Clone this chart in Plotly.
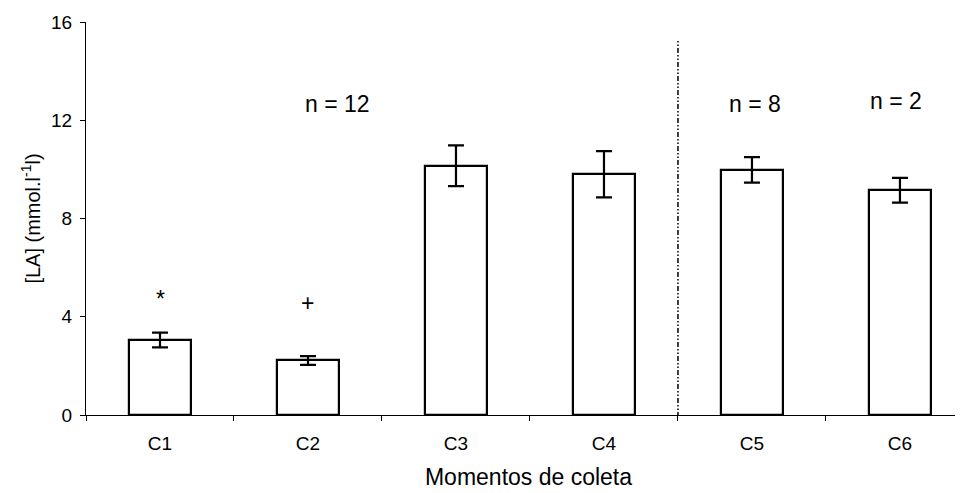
import plotly.graph_objects as go

categories = ["C1", "C2", "C3", "C4", "C5", "C6"]
means = [3.05, 2.22, 10.15, 9.8, 9.98, 9.15]
errors = [0.3, 0.18, 0.83, 0.94, 0.52, 0.5]
y_ticks = [0, 4, 8, 12, 16]
marks = [("*", 0, 4.72), ("+", 1, 4.58)]
n_labels = [("n = 12", 1.2, 12.68), ("n = 8", 4.02, 12.68), ("n = 2", 4.97, 12.78)]
divider_x = 3.5
divider_span = [-1.22, 15.24]

FONT = "Liberation Sans, Arial, sans-serif"
x = list(range(len(categories)))

fig = go.Figure()
fig.add_trace(go.Bar(
    x=x, y=means, width=0.42,
    marker=dict(color="white", line=dict(color="black", width=2.2)),
    error_y=dict(type="data", array=errors, visible=True, color="black",
                 thickness=2.2, width=8),
    showlegend=False,
))

for txt, xi, yi in marks:
    fig.add_annotation(x=xi, y=yi, text=txt, showarrow=False,
                       font=dict(family=FONT, size=23, color="black"))
for txt, xi, yi in n_labels:
    fig.add_annotation(x=xi, y=yi, text=txt, showarrow=False,
                       font=dict(family=FONT, size=23, color="black"))

fig.add_shape(type="line", xref="x", yref="y", x0=divider_x, x1=divider_x,
              y0=divider_span[0], y1=divider_span[1],
              line=dict(color="black", width=1.5, dash="5px,2px,1.5px,2px,1.5px,2px"))

# page body adds an 8px offset; margins compensate so the plot lands where the reference has it
fig.update_layout(
    width=963, height=493,
    margin=dict(l=78, r=0, t=14, b=86),
    paper_bgcolor="white", plot_bgcolor="white",
    font=dict(family=FONT, size=19, color="black"),
    bargap=0,
)
fig.update_xaxes(
    range=[-0.5, 5.48], tickvals=x, ticktext=categories,
    ticks="outside", ticklen=11, tickcolor="rgba(0,0,0,0)",
    showline=True, linecolor="black", linewidth=1, showgrid=False, zeroline=False,
    minor=dict(tickvals=[i - 0.5 for i in range(len(categories) + 1)],
               ticks="outside", ticklen=5, tickcolor="black", tickwidth=1, showgrid=False),
    title=dict(text="Momentos de coleta", font=dict(family=FONT, size=23), standoff=16),
    tickfont=dict(family=FONT, size=19),
    automargin=False,
)
fig.update_yaxes(
    range=[0, 16], tickvals=y_ticks,
    ticks="outside", ticklen=5, tickcolor="black",
    showline=True, linecolor="black", linewidth=1, showgrid=False, zeroline=False,
    title=dict(text="[LA] (mmol.l<sup>-1</sup>l)", font=dict(family=FONT, size=20), standoff=5),
    tickfont=dict(family=FONT, size=19), ticklabelstandoff=4,
    automargin=False,
)

fig.write_html("out.html")
